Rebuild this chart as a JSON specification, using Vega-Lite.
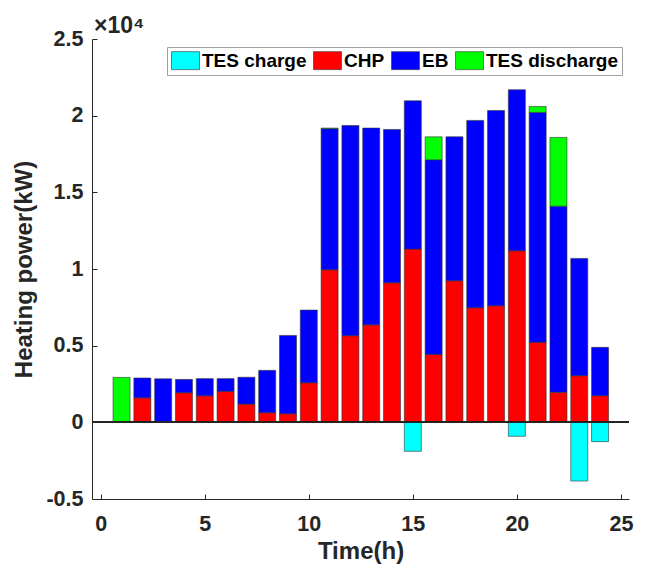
{
  "$schema": "https://vega.github.io/schema/vega-lite/v6.json",
  "autosize": "none",
  "width": 537,
  "height": 460,
  "padding": {"left": 92, "top": 39, "right": 20, "bottom": 69},
  "background": "white",
  "config": {
    "view": {"stroke": null},
    "font": "Liberation Sans",
    "axis": {
      "grid": false,
      "domainColor": "#262626",
      "tickColor": "#262626",
      "labelColor": "#262626",
      "titleColor": "#262626",
      "labelFont": "Liberation Sans",
      "titleFont": "Liberation Sans",
      "labelFontWeight": "bold",
      "titleFontWeight": "bold",
      "labelFontSize": 21.5,
      "titleFontSize": 24,
      "tickSize": -5,
      "domainWidth": 1,
      "tickWidth": 1
    }
  },
  "title": {
    "text": "×10⁴",
    "anchor": "start",
    "frame": "group",
    "fontSize": 23,
    "fontWeight": "bold",
    "font": "Liberation Sans",
    "color": "#262626",
    "offset": -10,
    "dx": 2
  },
  "data": {
    "values": [
      {"t": 1, "s": "TES discharge", "v": 2930},
      {"t": 2, "s": "CHP", "v": 1600}, {"t": 2, "s": "EB", "v": 1290},
      {"t": 3, "s": "CHP", "v": 50}, {"t": 3, "s": "EB", "v": 2790},
      {"t": 4, "s": "CHP", "v": 1930}, {"t": 4, "s": "EB", "v": 870},
      {"t": 5, "s": "CHP", "v": 1730}, {"t": 5, "s": "EB", "v": 1120},
      {"t": 6, "s": "CHP", "v": 2020}, {"t": 6, "s": "EB", "v": 830},
      {"t": 7, "s": "CHP", "v": 1190}, {"t": 7, "s": "EB", "v": 1750},
      {"t": 8, "s": "CHP", "v": 630}, {"t": 8, "s": "EB", "v": 2760},
      {"t": 9, "s": "CHP", "v": 560}, {"t": 9, "s": "EB", "v": 5110},
      {"t": 10, "s": "CHP", "v": 2580}, {"t": 10, "s": "EB", "v": 4740},
      {"t": 11, "s": "CHP", "v": 9950}, {"t": 11, "s": "EB", "v": 9200}, {"t": 11, "s": "TES discharge", "v": 40},
      {"t": 12, "s": "CHP", "v": 5650}, {"t": 12, "s": "EB", "v": 13710},
      {"t": 13, "s": "CHP", "v": 6360}, {"t": 13, "s": "EB", "v": 12830},
      {"t": 14, "s": "CHP", "v": 9100}, {"t": 14, "s": "EB", "v": 10000},
      {"t": 15, "s": "CHP", "v": 11300}, {"t": 15, "s": "EB", "v": 9670}, {"t": 15, "s": "TES charge", "v": -1890},
      {"t": 16, "s": "CHP", "v": 4430}, {"t": 16, "s": "EB", "v": 12690}, {"t": 16, "s": "TES discharge", "v": 1500},
      {"t": 17, "s": "CHP", "v": 9230}, {"t": 17, "s": "EB", "v": 9390},
      {"t": 18, "s": "CHP", "v": 7470}, {"t": 18, "s": "EB", "v": 12220},
      {"t": 19, "s": "CHP", "v": 7600}, {"t": 19, "s": "EB", "v": 12740},
      {"t": 20, "s": "CHP", "v": 11190}, {"t": 20, "s": "EB", "v": 10500}, {"t": 20, "s": "TES charge", "v": -910},
      {"t": 21, "s": "CHP", "v": 5220}, {"t": 21, "s": "EB", "v": 14990}, {"t": 21, "s": "TES discharge", "v": 390},
      {"t": 22, "s": "CHP", "v": 1960}, {"t": 22, "s": "EB", "v": 12140}, {"t": 22, "s": "TES discharge", "v": 4480},
      {"t": 23, "s": "CHP", "v": 3040}, {"t": 23, "s": "EB", "v": 7650}, {"t": 23, "s": "TES charge", "v": -3830},
      {"t": 24, "s": "CHP", "v": 1735}, {"t": 24, "s": "EB", "v": 3155}, {"t": 24, "s": "TES charge", "v": -1260}
    ]
  },
  "layer": [
    {
      "mark": {"type": "bar", "width": 17, "stroke": "#333333", "strokeWidth": 0.6},
      "encoding": {
        "x": {
          "field": "t", "type": "quantitative",
          "scale": {"domain": [-0.18, 25.15], "nice": false, "zero": false},
          "axis": {"values": [0, 5, 10, 15, 20, 25], "title": "Time(h)", "titlePadding": 5, "labelPadding": 19}
        },
        "y": {
          "field": "v", "type": "quantitative", "aggregate": "sum", "stack": "zero",
          "scale": {"domain": [-5000, 25000], "nice": false},
          "axis": {
            "values": [-5000, 0, 5000, 10000, 15000, 20000, 25000],
            "labelExpr": "'' + (datum.value / 10000)",
            "title": "Heating power(kW)",
            "titlePadding": 9,
            "labelPadding": 14
          }
        },
        "color": {
          "field": "s", "type": "nominal",
          "scale": {
            "domain": ["TES charge", "CHP", "EB", "TES discharge"],
            "range": ["#00FFFF", "#FF0000", "#0000FF", "#00FF00"]
          },
          "legend": {
            "title": null,
            "orient": "none",
            "legendX": 75,
            "legendY": 8,
            "direction": "horizontal",
            "strokeColor": "#a0a0a0",
            "fillColor": "white",
            "padding": 4,
            "symbolType": "M-1,-1H2.11V1H-1Z",
            "symbolSize": 324,
            "symbolStrokeColor": "#333333",
            "symbolStrokeWidth": 0.6,
            "symbolOpacity": 1,
            "labelFont": "Liberation Sans",
            "labelFontWeight": "bold",
            "labelFontSize": 19,
            "labelColor": "#000000",
            "labelOffset": 12,
            "columnPadding": 5
          }
        },
        "order": {"field": "s", "sort": "ascending"}
      }
    },
    {
      "mark": {"type": "rule", "color": "#262626", "strokeWidth": 1},
      "encoding": {"y": {"datum": 0}}
    }
  ]
}
